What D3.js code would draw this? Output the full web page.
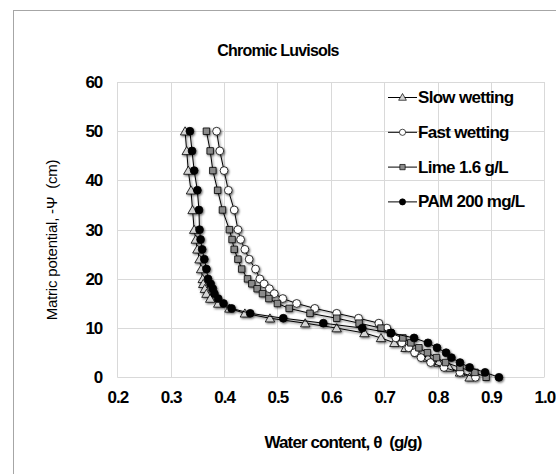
<!DOCTYPE html>
<html>
<head>
<meta charset="utf-8">
<script src="https://cdn.jsdelivr.net/npm/d3@7"></script>
<style>
  body { margin: 0; background: #fff; }
  text { font-family: "Liberation Sans", Arial, sans-serif; fill: #000; }
</style>
</head>
<body>
<svg id="chart"></svg>
<script>
// matric potential levels (cm), shared by all series
const psi = [50, 46, 42, 38, 34, 30, 28, 26, 24, 22, 20, 19, 18, 17, 16, 15, 14, 13, 12, 11, 10, 9, 8, 7, 6, 5, 4, 3, 2, 1, 0];

// water content (g/g)
const slowWetting = [0.327, 0.330, 0.333, 0.338, 0.341, 0.344, 0.347, 0.350, 0.354, 0.357, 0.360, 0.361, 0.364, 0.367, 0.374, 0.389, 0.410, 0.439, 0.486, 0.552, 0.611, 0.663, 0.694, 0.719, 0.740, 0.762, 0.782, 0.802, 0.822, 0.842, 0.860];
const fastWetting = [0.386, 0.392, 0.400, 0.408, 0.419, 0.426, 0.431, 0.439, 0.447, 0.459, 0.467, 0.475, 0.485, 0.494, 0.510, 0.536, 0.570, 0.611, 0.652, 0.690, 0.705, 0.713, 0.722, 0.733, 0.746, 0.757, 0.769, 0.787, 0.812, 0.842, 0.871];
const lime = [0.367, 0.374, 0.379, 0.388, 0.397, 0.410, 0.415, 0.419, 0.426, 0.433, 0.444, 0.452, 0.462, 0.472, 0.484, 0.500, 0.522, 0.561, 0.611, 0.653, 0.694, 0.712, 0.735, 0.750, 0.765, 0.781, 0.798, 0.815, 0.842, 0.870, 0.891];
const pam = [0.336, 0.340, 0.344, 0.350, 0.353, 0.354, 0.356, 0.359, 0.363, 0.367, 0.370, 0.375, 0.379, 0.382, 0.389, 0.399, 0.414, 0.449, 0.511, 0.586, 0.659, 0.713, 0.756, 0.782, 0.799, 0.816, 0.826, 0.842, 0.860, 0.889, 0.915];

const seriesNames = ["Slow wetting", "Fast wetting", "Lime 1.6 g/L", "PAM 200 mg/L"];
const xTicks = [0.2, 0.3, 0.4, 0.5, 0.6, 0.7, 0.8, 0.9, 1.0];
const yTicks = [0, 10, 20, 30, 40, 50, 60];

const width = 556, height = 474;
const plot = { left: 117.3, right: 544.3, top: 82, bottom: 377.3 };

const svg = d3.select("#chart").attr("width", width).attr("height", height);

const defs = svg.append("defs");
defs.append("filter").attr("id", "shadow")
  .attr("x", "-20%").attr("y", "-20%").attr("width", "140%").attr("height", "140%")
  .append("feDropShadow")
  .attr("dx", 1).attr("dy", 1.2).attr("stdDeviation", 1.2)
  .attr("flood-color", "#000").attr("flood-opacity", 0.6);

// outer chart border
svg.append("rect")
  .attr("x", 13.5).attr("y", 10.5)
  .attr("width", 700).attr("height", 600)
  .attr("fill", "none").attr("stroke", "#a6a6a6");

const x = d3.scaleLinear().domain([0.2, 1.0]).range([plot.left, plot.right]);
const y = d3.scaleLinear().domain([0, 60]).range([plot.bottom, plot.top]);

// gridlines
const grid = svg.append("g").attr("stroke", "#d9d9d9").attr("stroke-width", 1);
grid.selectAll("line.v").data(xTicks).join("line")
  .attr("x1", d => Math.round(x(d)) + 0.5).attr("x2", d => Math.round(x(d)) + 0.5)
  .attr("y1", plot.top).attr("y2", plot.bottom);
grid.selectAll("line.h").data(yTicks).join("line")
  .attr("y1", d => Math.round(y(d)) + 0.5).attr("y2", d => Math.round(y(d)) + 0.5)
  .attr("x1", plot.left).attr("x2", plot.right);

// axes (labels only, Excel style)
const xAxis = svg.append("g")
  .attr("transform", `translate(0,${plot.bottom})`)
  .call(d3.axisBottom(x).tickValues(xTicks).tickSize(0).tickPadding(14).tickFormat(d3.format(".1f")));
const yAxis = svg.append("g")
  .attr("transform", `translate(${plot.left},0)`)
  .call(d3.axisLeft(y).tickValues(yTicks).tickSize(0).tickPadding(15));
[xAxis, yAxis].forEach(a => {
  a.select(".domain").remove();
  a.selectAll("text")
    .style("font-family", '"Liberation Sans", Arial, sans-serif')
    .style("font-size", "17px").style("font-weight", "bold")
    .style("letter-spacing", "-1px").attr("fill", "#000");
});

// series
const series = [
  { name: seriesNames[0], values: slowWetting, shape: "triangle", fill: "#d4d4d4" },
  { name: seriesNames[1], values: fastWetting, shape: "circle", fill: "#ffffff" },
  { name: seriesNames[2], values: lime, shape: "square", fill: "#8a8a8a" },
  { name: seriesNames[3], values: pam, shape: "circle", fill: "#000000" }
];

const symbolOf = (shape, size) => d3.symbol()
  .type(shape === "triangle" ? d3.symbolTriangle : shape === "square" ? d3.symbolSquare : d3.symbolCircle)
  .size(size);

const line = d3.line().x(d => x(d[0])).y(d => y(d[1]));

const marks = svg.append("g").attr("filter", "url(#shadow)");
series.forEach(s => {
  const pts = s.values.map((v, i) => [v, psi[i]]);
  const g = marks.append("g");
  g.append("path").datum(pts)
    .attr("d", line).attr("fill", "none")
    .attr("stroke", "#000").attr("stroke-width", 1);
  g.selectAll("path.m").data(pts).join("path")
    .attr("class", "m")
    .attr("d", symbolOf(s.shape, s.shape === "triangle" ? 38 : s.shape === "square" ? 42 : 48))
    .attr("transform", d => `translate(${x(d[0])},${y(d[1]) + (s.shape === "triangle" ? 1 : 0)})`)
    .attr("fill", s.fill).attr("stroke", "#000").attr("stroke-width", 0.8);
});

// legend
const legend = svg.append("g").attr("transform", "translate(388,97)");
series.forEach((s, i) => {
  const row = legend.append("g").attr("transform", `translate(0,${i * 34.8})`);
  row.append("line").attr("x1", 0).attr("x2", 29).attr("y1", 0.5).attr("y2", 0.5)
    .attr("stroke", "#000").attr("stroke-width", 1);
  row.append("path")
    .attr("d", symbolOf(s.shape, s.shape === "triangle" ? 26 : s.shape === "square" ? 28 : 30))
    .attr("transform", `translate(14.5,${s.shape === "triangle" ? 1 : 0.5})`)
    .attr("fill", s.fill).attr("stroke", "#000").attr("stroke-width", 0.7);
  row.append("text").attr("x", 30).attr("y", 6)
    .style("font-size", "17px").style("font-weight", "bold").style("letter-spacing", "-0.7px")
    .text(s.name);
});

// title
svg.append("text").attr("x", 278).attr("y", 56).attr("text-anchor", "middle")
  .style("font-size", "16px").style("font-weight", "bold").style("letter-spacing", "-0.8px")
  .text("Chromic Luvisols");

// axis titles
svg.append("text").attr("x", 343).attr("y", 448).attr("text-anchor", "middle")
  .style("font-size", "17px").style("font-weight", "bold").style("letter-spacing", "-0.9px")
  .style("white-space", "pre")
  .text("Water content, \u03B8  (g/g)");

svg.append("text")
  .attr("transform", "translate(57,240) rotate(-90)")
  .attr("text-anchor", "middle")
  .style("font-size", "15px").style("letter-spacing", "-0.2px")
  .style("white-space", "pre")
  .text("Matric potential, -\u03A8  (cm)");
</script>
</body>
</html>
